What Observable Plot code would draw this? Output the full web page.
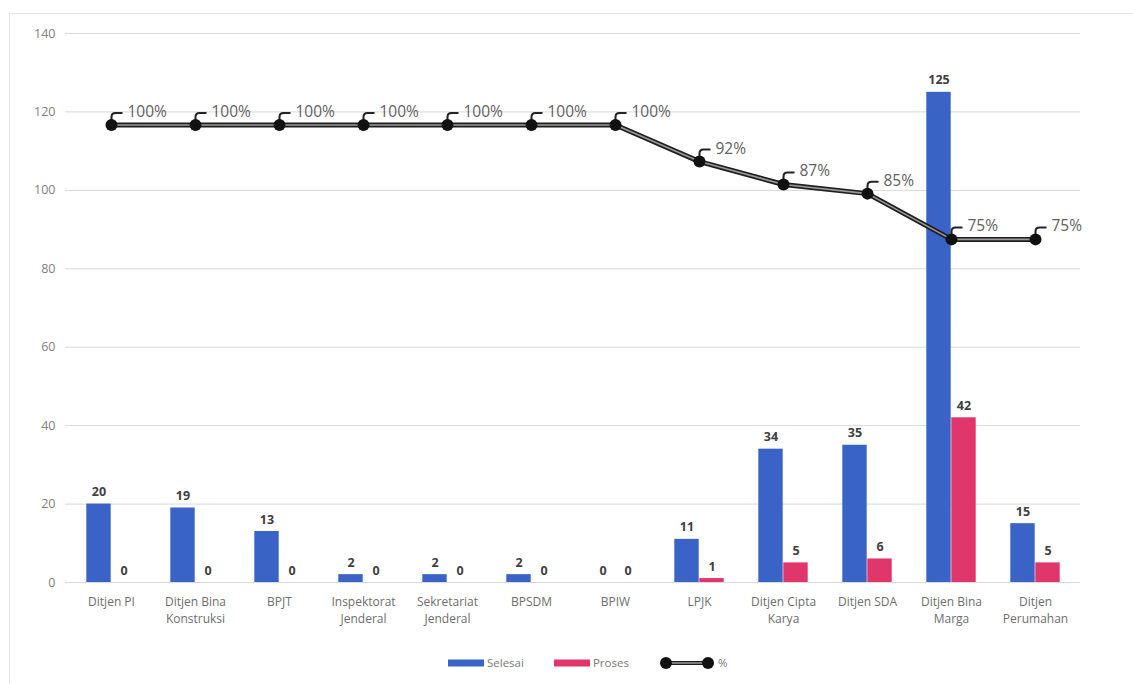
<!DOCTYPE html>
<html>
<head>
<meta charset="utf-8">
<script src="https://cdn.jsdelivr.net/npm/d3@7"></script>
<script src="https://cdn.jsdelivr.net/npm/@observablehq/plot@0.6"></script>
<style>
  body { margin: 0; background: #fff; font-family: "Open Sans", "Liberation Sans", sans-serif; }
  #frame { position: absolute; left: 9px; top: 13px; width: 1140px; height: 700px; border: 1px solid #e6e6e6; box-sizing: border-box; pointer-events: none; }
  #chart { position: absolute; left: 0; top: 0; }
  #legend { position: absolute; top: 655px; left: 448px; display: flex; align-items: center; font-size: 11.5px; color: #7a7a7a; gap: 4px; }
  #legend .item { display: flex; align-items: center; gap: 3px; margin-right: 26px; }
</style>
</head>
<body>
<div id="frame"></div>
<div id="chart"></div>
<div id="legend"></div>
<script>
const categories = ["Ditjen PI","Ditjen Bina Konstruksi","BPJT","Inspektorat Jenderal","Sekretariat Jenderal","BPSDM","BPIW","LPJK","Ditjen Cipta Karya","Ditjen SDA","Ditjen Bina Marga","Ditjen Perumahan"];
const tickLabels = ["Ditjen PI","Ditjen Bina\nKonstruksi","BPJT","Inspektorat\nJenderal","Sekretariat\nJenderal","BPSDM","BPIW","LPJK","Ditjen Cipta\nKarya","Ditjen SDA","Ditjen Bina\nMarga","Ditjen\nPerumahan"];
const selesai = [20,19,13,2,2,2,0,11,34,35,125,15];
const proses  = [0,0,0,0,0,0,0,1,5,6,42,5];
const persen  = [100,100,100,100,100,100,100,92,87,85,75,75];
const yTicks = [0,20,40,60,80,100,120,140];
const secondaryMax = 120; // hidden right axis 0–120%
const seriesNames = ["Selesai","Proses","%"];
const colors = {Selesai: "#3a63c8", Proses: "#e0366b", line: "#1a1a1a"};

const rows = categories.map((c, i) => ({
  cat: c, label: tickLabels[i], selesai: selesai[i], proses: proses[i],
  pct: persen[i], pctY: persen[i] * 140 / secondaryMax, pctLabel: persen[i] + "%"
}));
const labelOf = new Map(rows.map(r => [r.cat, r.label]));

const width = 1133, mL = 65, mR = 53;
const band = (width - mL - mR) / categories.length;
const half = band / 2, barW = 25;

// leader-line symbol for data-label callouts
const leader = {
  draw(context) {
    context.moveTo(0, 0);
    context.lineTo(0, -8);
    context.quadraticCurveTo(0, -12, 4, -12);
    context.lineTo(11, -12);
  }
};

const chart = Plot.plot({
  width, height: 640,
  marginLeft: mL, marginRight: mR, marginTop: 33, marginBottom: 58,
  style: {fontFamily: "'Open Sans', 'Liberation Sans', sans-serif", background: "transparent"},
  x: {type: "band", domain: categories, padding: 0},
  y: {domain: [0, 140]},
  marks: [
    Plot.gridY(yTicks, {stroke: "#d9d9d9", strokeOpacity: 1}),
    Plot.axisY(yTicks, {tickSize: 0, tickPadding: 10, fill: "#808080", fontSize: 12.5, label: null}),
    Plot.axisX({tickSize: 0, tickPadding: 12, fill: "#6e6e6e", fontSize: 12, lineHeight: 1.4, label: null, tickFormat: d => labelOf.get(d)}),
    Plot.barY(rows, {x: "cat", y: "selesai", fill: colors.Selesai, insetLeft: half - barW, insetRight: half}),
    Plot.barY(rows, {x: "cat", y: "proses", fill: colors.Proses, insetLeft: half, insetRight: half - barW}),
    Plot.text(rows, {x: "cat", y: "selesai", text: d => String(d.selesai), dx: -barW / 2, dy: -12, fontWeight: "bold", fontSize: 12.5, fill: "#404040"}),
    Plot.text(rows, {x: "cat", y: "proses", text: d => String(d.proses), dx: barW / 2, dy: -12, fontWeight: "bold", fontSize: 12.5, fill: "#404040"}),
    Plot.line(rows, {x: "cat", y: "pctY", stroke: "#1e1e1e", strokeWidth: 5}),
    Plot.line(rows, {x: "cat", y: "pctY", stroke: "#9a9a9a", strokeWidth: 1.6}),
    Plot.dot(rows, {x: "cat", y: "pctY", symbol: leader, r: 5, fill: "none", stroke: "#222", strokeWidth: 2}),
    Plot.dot(rows, {x: "cat", y: "pctY", r: 6, fill: "#111"}),
    Plot.text(rows, {x: "cat", y: "pctY", text: "pctLabel", dx: 16, dy: -13, fontSize: 15.5, fill: "#5f5f5f", textAnchor: "start"})
  ]
});
document.getElementById("chart").appendChild(chart);

// Legend
const legend = document.getElementById("legend");
function item(svg, name) {
  const d = document.createElement("div");
  d.className = "item";
  d.innerHTML = svg + `<span>${name}</span>`;
  legend.appendChild(d);
}
item(`<svg width="36" height="8"><rect width="36" height="7" y="0.5" fill="${colors.Selesai}"/></svg>`, seriesNames[0]);
item(`<svg width="36" height="8"><rect width="36" height="7" y="0.5" fill="${colors.Proses}"/></svg>`, seriesNames[1]);
item(`<svg width="56" height="14"><line x1="6" x2="50" y1="7" y2="7" stroke="#1e1e1e" stroke-width="4"/><line x1="6" x2="50" y1="7" y2="7" stroke="#9a9a9a" stroke-width="1.3"/><circle cx="7" cy="7" r="6" fill="#111"/><circle cx="49" cy="7" r="6" fill="#111"/></svg>`, seriesNames[2]);
</script>
</body>
</html>
